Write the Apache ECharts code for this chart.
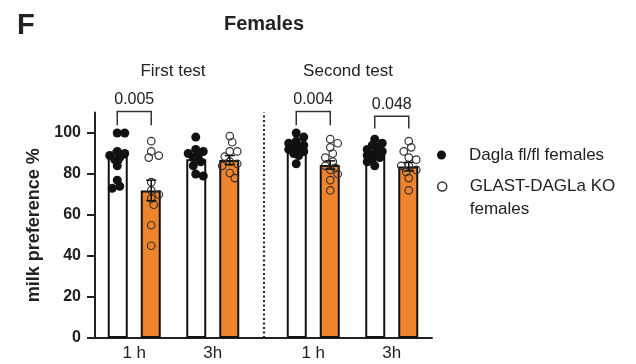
<!DOCTYPE html>
<html>
<head>
<meta charset="utf-8">
<script src="https://cdn.jsdelivr.net/npm/echarts@6/dist/echarts.min.js"></script>
<style>html,body{margin:0;padding:0;background:#fff}#c{width:636px;height:364px}</style>
</head>
<body>
<div id="c"></div>
<script>
// ---------- data ----------
const categories = ['1 h', '3h'];
const tests = ['First test', 'Second test'];
const yTicks = [0, 20, 40, 60, 80, 100];
const wtName = 'Dagla fl/fl females';
const koName = 'GLAST-DAGLa KO females';

// bar means [test][category]
const wtMeans = [[88.5, 87.2], [93.0, 89.6]];
const koMeans = [[72.0, 86.8], [84.4, 83.6]];
// SEM [test][category]
const wtSem = [[2.8, 2.0], [1.2, 1.1]];
const koSem = [[5.0, 2.2], [2.0, 2.1]];

// individual animals
const wtFirst1h = [100, 100, 91, 90, 89, 88, 87, 84, 77, 74, 73];
const koFirst1h = [96, 91, 89, 88, 76, 72, 70, 68, 65, 55, 45];
const wtFirst3h = [98, 92, 91, 90, 89, 88, 86, 84, 80, 79];
const koFirst3h = [98.5, 95.5, 91, 91, 88.5, 86, 85, 84, 80.5, 78];
const wtSecond1h = [100, 98, 96, 95, 94, 93, 92, 92, 91, 90, 89, 85];
const koSecond1h = [97, 95, 93, 90, 88, 86, 84, 83, 82, 80, 77, 72];
const wtSecond3h = [97, 95, 94, 93, 92, 91, 90, 89, 88, 87, 86, 84];
const koSecond3h = [96, 93, 91, 88, 87, 84, 84, 82, 81, 78, 72];

// significance brackets
const bracketTest = [0, 1, 1];
const bracketCat = [0, 0, 1];
const bracketLabels = ['0.005', '0.004', '0.048'];
const bracketTop = [110.5, 110.5, 108.2];
const bracketLeg = [103.8, 103.8, 102.2];

// ---------- layout ----------
const GRID_TOP = 112.5, GRID_BOTTOM = 26, Y_MAX = 110;
const GRID_H = 364 - GRID_TOP - GRID_BOTTOM;
const TEST_W = 157;
const gridLefts = [95, 274];
const X_UNIT_PX = TEST_W / 2;
const Y_UNIT_PX = GRID_H / Y_MAX;
const BAR_W = 20, BAR_GAP = '65%';
const SIDE = 17 / X_UNIT_PX;   // offset of each bar from category centre
const ORANGE = '#f0842c';
const INK = '#222';

const wtPts = [[wtFirst1h, wtFirst3h], [wtSecond1h, wtSecond3h]];
const koPts = [[koFirst1h, koFirst3h], [koSecond1h, koSecond3h]];

function swarm(values, minD, step, maxDx) {
  const placed = [];
  const res = new Array(values.length);
  const order = values.map((v, i) => i).sort((a, b) => values[b] - values[a]);
  const cands = [0];
  for (let k = 1; k * step <= maxDx; k++) { cands.push(k * step, -k * step); }
  for (const i of order) {
    const y = values[i] * Y_UNIT_PX;
    let chosen = null, fb = 0, fbD = -1;
    for (const dx of cands) {
      let m = Infinity;
      for (const p of placed) m = Math.min(m, Math.hypot(p[0] - dx, p[1] - y));
      if (m >= minD) { chosen = dx; break; }
      if (m > fbD) { fbD = m; fb = dx; }
    }
    const dx = chosen === null ? fb : chosen;
    placed.push([dx, y]);
    res[i] = dx;
  }
  return res;
}

function pointData(vals, cat, side) {
  const dxs = swarm(vals, 6.5, 2.5, 8);
  return vals.map((v, i) => [cat + 0.5 + side * SIDE + dxs[i] / X_UNIT_PX, v]);
}

const grids = [{ left: 95, width: 337, top: GRID_TOP, bottom: GRID_BOTTOM }];
const xAxes = [{
  gridIndex: 0, type: 'value', min: 0, max: 2, show: true,
  axisLine: { show: true, lineStyle: { color: INK, width: 2 } },
  axisTick: { show: false }, axisLabel: { show: false }, splitLine: { show: false }
}];
const yAxes = [{
  gridIndex: 0, type: 'value', min: 0, max: Y_MAX, interval: 20,
  name: 'milk preference %', nameLocation: 'middle', nameGap: 46, nameRotate: 90,
  nameTextStyle: { fontSize: 18, fontWeight: 'bold', color: INK, fontFamily: 'Liberation Sans' },
  axisLine: { show: true, lineStyle: { color: INK, width: 2 } },
  axisTick: { show: true, length: 8, lineStyle: { color: INK, width: 2 }, customValues: yTicks },
  axisLabel: { fontSize: 16, fontWeight: 'bold', color: INK, margin: 14, fontFamily: 'Liberation Sans', customValues: yTicks },
  splitLine: { show: false }
}];
const series = [{
  type: 'scatter', xAxisIndex: 0, yAxisIndex: 0, data: [], silent: true,
  markLine: {
    silent: true, symbol: 'none', label: { show: false },
    lineStyle: { color: INK, width: 2, type: [2, 2.5] },
    data: [{ xAxis: 1 }]
  }
}];

tests.forEach((t, ti) => {
  const g = ti + 1;
  grids.push({ left: gridLefts[ti], width: TEST_W, top: GRID_TOP, bottom: GRID_BOTTOM });
  const catIdx = xAxes.length;
  xAxes.push({
    gridIndex: g, type: 'category', data: categories,
    axisLine: { show: false }, axisTick: { show: false },
    axisLabel: { fontSize: 17, color: INK, margin: 7, fontFamily: 'Liberation Sans' }
  });
  const valIdx = xAxes.length;
  xAxes.push({ gridIndex: g, type: 'value', min: 0, max: 2, show: false });
  const yIdx = yAxes.length;
  yAxes.push({ gridIndex: g, type: 'value', min: 0, max: Y_MAX, show: false });

  series.push({
    name: wtName, type: 'bar', xAxisIndex: catIdx, yAxisIndex: yIdx,
    barWidth: BAR_W, barGap: BAR_GAP, data: wtMeans[ti], z: 2,
    itemStyle: { color: '#fff', borderColor: '#111', borderWidth: 2 }
  });
  series.push({
    name: koName, type: 'bar', xAxisIndex: catIdx, yAxisIndex: yIdx,
    barWidth: BAR_W, barGap: BAR_GAP, data: koMeans[ti], z: 2,
    itemStyle: { color: ORANGE, borderColor: '#111', borderWidth: 2 }
  });
  series.push({
    name: wtName, type: 'scatter', xAxisIndex: valIdx, yAxisIndex: yIdx, z: 4,
    symbol: 'circle', symbolSize: 9, itemStyle: { color: '#111', opacity: 1 },
    data: [].concat(pointData(wtPts[ti][0], 0, -1), pointData(wtPts[ti][1], 1, -1))
  });
  series.push({
    name: koName, type: 'scatter', xAxisIndex: valIdx, yAxisIndex: yIdx, z: 4,
    symbol: 'circle', symbolSize: 7.5,
    itemStyle: { color: 'rgba(0,0,0,0)', borderColor: '#333', borderWidth: 1.2, opacity: 1 },
    data: [].concat(pointData(koPts[ti][0], 0, 1), pointData(koPts[ti][1], 1, 1))
  });
  // error bars
  const errData = [];
  categories.forEach((c, ci) => {
    errData.push([ci + 0.5 - SIDE, wtMeans[ti][ci], wtSem[ti][ci]]);
    errData.push([ci + 0.5 + SIDE, koMeans[ti][ci], koSem[ti][ci]]);
  });
  series.push({
    type: 'custom', xAxisIndex: valIdx, yAxisIndex: yIdx, z: 5, silent: true, clip: false,
    data: errData,
    renderItem: (params, api) => {
      const x = api.value(0), m = api.value(1), s = api.value(2);
      const top = api.coord([x, m + s]), bot = api.coord([x, m - s]);
      const cw = 5;
      const st = { stroke: '#111', lineWidth: 1.5 };
      return { type: 'group', children: [
        { type: 'line', shape: { x1: top[0], y1: top[1], x2: bot[0], y2: bot[1] }, style: st },
        { type: 'line', shape: { x1: top[0] - cw, y1: top[1], x2: top[0] + cw, y2: top[1] }, style: st },
        { type: 'line', shape: { x1: bot[0] - cw, y1: bot[1], x2: bot[0] + cw, y2: bot[1] }, style: st }
      ]};
    }
  });
  // brackets
  const bData = [];
  bracketTest.forEach((bt, bi) => {
    if (bt === ti) {
      const c = bracketCat[bi];
      bData.push([c + 0.5 - SIDE, c + 0.5 + SIDE, bracketTop[bi], bracketLeg[bi], bi]);
    }
  });
  series.push({
    type: 'custom', xAxisIndex: valIdx, yAxisIndex: yIdx, z: 5, silent: true, clip: false,
    data: bData,
    renderItem: (params, api) => {
      const l = api.coord([api.value(0), api.value(2)]);
      const r = api.coord([api.value(1), api.value(2)]);
      const lb = api.coord([api.value(0), api.value(3)]);
      const rb = api.coord([api.value(1), api.value(3)]);
      const label = bracketLabels[api.value(4)];
      return { type: 'group', children: [
        { type: 'polyline', shape: { points: [lb, l, r, rb] }, style: { stroke: '#333', lineWidth: 1.5, fill: null } },
        { type: 'text', x: (l[0] + r[0]) / 2, y: l[1] - 4,
          style: { text: label, fontSize: 16, fill: INK, align: 'center', verticalAlign: 'bottom', fontFamily: 'Liberation Sans' } }
      ]};
    }
  });
});

const legendText = { fontSize: 17, color: INK, lineHeight: 23, fontFamily: 'Liberation Sans', padding: [0, 0, 0, 18] };
const option = {
  animation: false,
  title: [
    { text: 'F', left: 12, top: 6, textStyle: { fontSize: 29, fontWeight: 'bold', color: INK, fontFamily: 'Liberation Sans' } },
    { text: 'Females', left: 219, top: 9, textStyle: { fontSize: 20, fontWeight: 'bold', color: INK, fontFamily: 'Liberation Sans' } },
    { text: tests[0], left: 168, top: 58, textAlign: 'center', textStyle: { fontSize: 17, fontWeight: 'normal', color: INK, fontFamily: 'Liberation Sans' } },
    { text: tests[1], left: 343, top: 58, textAlign: 'center', textStyle: { fontSize: 17, fontWeight: 'normal', color: INK, fontFamily: 'Liberation Sans' } }
  ],
  legend: [
    { left: 432, top: 138.5, orient: 'vertical', itemWidth: 9, itemHeight: 9, selectedMode: false,
      textStyle: legendText,
      data: [{ name: wtName, icon: 'circle', itemStyle: { color: '#111', borderWidth: 0 } }] },
    { left: 432, top: 147, orient: 'vertical', itemWidth: 9, itemHeight: 9, selectedMode: false,
      formatter: n => ' \n' + n.replace(' females', '\nfemales'),
      textStyle: legendText,
      data: [{ name: koName, icon: 'circle', itemStyle: { color: 'rgba(0,0,0,0)', borderColor: '#333', borderWidth: 1.5 } }] }
  ],
  grid: grids,
  xAxis: xAxes,
  yAxis: yAxes,
  series: series
};
const chart = echarts.init(document.getElementById('c'), null, { renderer: 'canvas' });
chart.setOption(option);
</script>
</body>
</html>
